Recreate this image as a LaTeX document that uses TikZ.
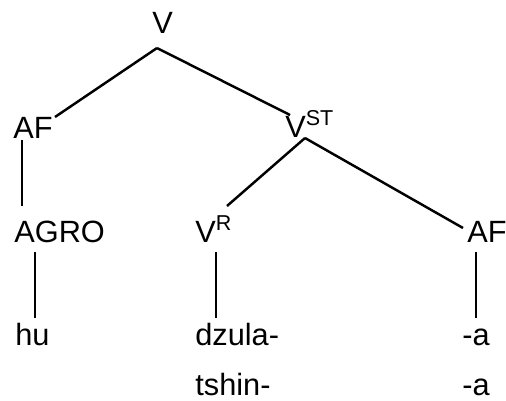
\documentclass[tikz,border=0pt]{standalone}
\usepackage{fontspec}
\setmainfont{Liberation Sans}
\usetikzlibrary{calc}

\begin{document}
\begin{tikzpicture}[x=0.02cm, y=-0.02cm,
    lbl/.style={anchor=base west, inner sep=0pt, font=\fontsize{17.5}{20}\selectfont},
    branch/.style={line width=1.4pt}]
    \useasboundingbox (0,0) rectangle (506,400);

    % Labels of the tree
    \node [lbl] (V) at (152,33) {V};
    \node [lbl] (AFa) at (13,138) {AF};
    \node [lbl] (VST) at (285,137) {V\textsuperscript{ST}};
    \node [lbl] (AGRO) at (14,242) {AGRO};
    \node [lbl] (VR) at (195,242) {V\textsuperscript{R}};
    \node [lbl] (AFb) at (467,242) {AF};

    % Morphs, two rows
    \node [lbl] (hu) at (15,345) {hu};
    \node [lbl] (dzula) at (195,345) {dzula-};
    \node [lbl] (suffA) at (462,345) {-a};
    \node [lbl] (tshin) at (195,395) {tshin-};
    \node [lbl] (suffB) at (462,395) {-a};

    % Branches from V
    \draw [branch] ($(V.base west)+(5,15)$) -- ($(AFa.base west)+(42,-21)$);
    \draw [branch] ($(V.base west)+(5,15)$) -- ($(VST.base west)+(5,-22)$);

    % Branches from V^ST
    \draw [branch] ($(VST.base west)+(20,1)$) -- ($(VR.base west)+(32,-36)$);
    \draw [branch] ($(VST.base west)+(20,1)$) -- ($(AFb.base west)+(-4,-14)$);

    % Straight stems down
    \draw [branch] ($(AFa.base west)+(9,2)$) -- ($(AGRO.base west)+(8,-36)$);
    \draw [branch] ($(AGRO.base west)+(21,10)$) -- ($(hu.base west)+(20,-27)$);
    \draw [branch] ($(VR.base west)+(21,10)$) -- ($(dzula.base west)+(21,-27)$);
    \draw [branch] ($(AFb.base west)+(9,10)$) -- ($(suffA.base west)+(14,-27)$);

\end{tikzpicture}
\end{document}
